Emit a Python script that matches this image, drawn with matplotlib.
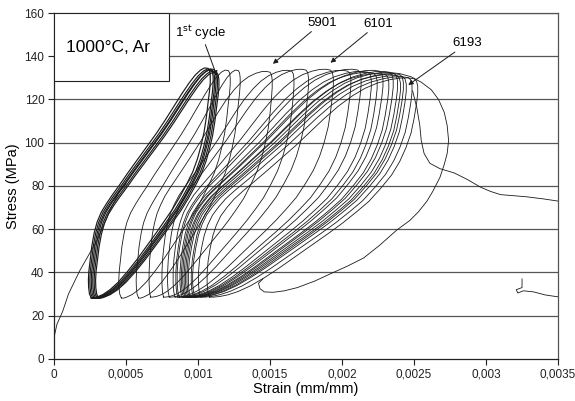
import numpy as np
import matplotlib
matplotlib.use("Agg")
import matplotlib.pyplot as plt
from matplotlib.patches import Rectangle

plt.rcParams['font.family'] = ['Liberation Sans', 'DejaVu Sans']

# loop outlines, strain given as fraction of the loop span
# (0 = lower-left turning point, 1 = peak), stress in MPa
narrow_up_u = [0.01, -0.005, -0.012, -0.014, -0.01, 0.0, 0.015, 0.035, 0.06, 0.095, 0.14, 0.19,
               0.25, 0.32, 0.40, 0.48, 0.56, 0.64, 0.71, 0.78, 0.84, 0.89, 0.935, 0.97, 1.0]
narrow_up_s = [28.2, 30, 33, 36.5, 40.5, 45, 52, 58, 63, 67.5, 71.5, 75.5,
               80, 85.5, 91.5, 97.5, 103.5, 110, 116, 122, 126.8, 130.3, 132.6, 133.6, 133.4]
narrow_dn_u = [1.0, 1.012, 1.018, 1.018, 1.012, 1.0, 0.985, 0.965, 0.94, 0.91, 0.87, 0.82, 0.76,
               0.70, 0.63, 0.56, 0.48, 0.40, 0.32, 0.24, 0.17, 0.11, 0.06, 0.03, 0.01]
narrow_dn_s = [133.4, 132.3, 130, 127, 123, 118, 111, 104, 98, 92, 86, 80.5, 74.5,
               69, 63.5, 58, 52, 46, 40.5, 35.5, 32, 29.8, 28.6, 28.1, 28.2]

fat_up_u = [0.0, -0.008, -0.012, -0.012, -0.007, 0.003, 0.016, 0.033, 0.055, 0.085, 0.12, 0.165,
            0.22, 0.28, 0.35, 0.42, 0.49, 0.56, 0.63, 0.70, 0.76, 0.82, 0.88, 0.93, 0.97, 1.0]
fat_up_s = [28.6, 31, 35, 40, 46, 52, 58, 63, 67.5, 71.5, 75.5, 79.5,
            84, 89, 95, 101, 107.5, 114, 120, 125, 128.5, 131, 132.6, 133.4, 133.5, 133.1]
fat_dn_u = [1.0, 1.012, 1.018, 1.018, 1.012, 1.0, 0.985, 0.96, 0.93, 0.89, 0.84, 0.78, 0.72,
            0.65, 0.58, 0.50, 0.42, 0.34, 0.27, 0.20, 0.14, 0.09, 0.05, 0.02, 0.0]
fat_dn_s = [133.1, 132, 129.5, 126, 121, 114, 107, 100, 93.5, 87, 81, 74.5, 69.5,
            64, 59, 53.5, 48, 42.5, 38, 34, 31.3, 29.7, 28.9, 28.6, 28.6]

# strain at lower-left corner, strain at peak and peak stress of each loop
loop_low = [0.00025, 0.00026, 0.00027, 0.00028, 0.00029, 0.00030,
            0.00046, 0.00058, 0.00067, 0.00076, 0.00080, 0.00084,
            0.00086, 0.00087, 0.00089, 0.00090, 0.00091, 0.00092, 0.00093,
            0.00094, 0.00095, 0.00097, 0.00098, 0.00102, 0.00108]
loop_high = [0.00107, 0.00109, 0.00110, 0.00111, 0.00112, 0.00113,
             0.00121, 0.00128, 0.00150, 0.00165, 0.00175, 0.00192,
             0.00204, 0.00211, 0.00218, 0.00222, 0.00226, 0.00230, 0.00233,
             0.00236, 0.00238, 0.00240, 0.00242, 0.00246, 0.00250]
loop_peak = [134.5, 134, 133.5, 134, 133, 132.5,
             133.5, 133.5, 133, 133.5, 134, 134,
             133.5, 134, 133, 132.5, 133.5, 132, 133,
             132.5, 131.5, 132, 131, 130.5, 130]
loop_kind = ['narrow'] * 8 + ['fat'] * 17

# first loading from zero
first_strain = [0.0, 0.00002, 0.00006, 0.00010, 0.00018, 0.00030, 0.00039, 0.00045, 0.00050]
first_stress = [10, 16, 22, 30, 41, 55, 69, 77, 81]

# last (failure) loop
last_strain = [0.00232, 0.00240, 0.00248, 0.00255, 0.00262, 0.00267, 0.00271, 0.00273, 0.00274,
               0.00273, 0.00271, 0.00268, 0.00263, 0.00259, 0.00253, 0.00247, 0.00238, 0.00226,
               0.00215, 0.00204, 0.00194, 0.00181, 0.00169, 0.00160, 0.00152, 0.00146,
               0.00143, 0.00142, 0.00145]
last_stress = [132.5, 132, 130.5, 128, 124.5, 120, 114, 108, 101,
               95, 90, 84, 77.5, 73, 68, 64, 59.6, 52.5,
               46.7, 43, 40, 36, 33, 31.5, 30.8, 31,
               32.5, 35, 37]

# run-away after failure
tail_strain = [0.00249, 0.00252, 0.00254, 0.00255, 0.00257, 0.00261, 0.00268, 0.00278, 0.00287,
               0.00296, 0.00303, 0.00310, 0.00319, 0.00328, 0.00340, 0.00350]
tail_stress = [124, 116, 108, 101, 95, 90.5, 88, 86, 83,
               79.5, 77.5, 76, 75.5, 75, 74, 73]

curl_strain = [0.00325, 0.00325, 0.00321, 0.00322, 0.00326, 0.00333, 0.00341, 0.00350]
curl_stress = [37, 33, 32, 30.5, 31.5, 31, 29.6, 28.7]

xticks = [0, 0.0005, 0.001, 0.0015, 0.002, 0.0025, 0.003, 0.0035]
xtick_labels = ['0', '0,0005', '0,001', '0,0015', '0,002', '0,0025', '0,003', '0,0035']
yticks = [0, 20, 40, 60, 80, 100, 120, 140, 160]

shapes = {
    'narrow': (narrow_up_u, narrow_up_s, narrow_dn_u, narrow_dn_s),
    'fat': (fat_up_u, fat_up_s, fat_dn_u, fat_dn_s),
}

fig = plt.figure(figsize=(5.75, 4.01), dpi=100)
ax = fig.add_axes([0.094, 0.105, 0.8765, 0.8625])

line_kw = dict(color='#1a1a1a', lw=0.6, zorder=3)

for i, (lo, hi, pk, kind) in enumerate(zip(loop_low, loop_high, loop_peak, loop_kind)):
    up_u, up_s, dn_u, dn_s = shapes[kind]
    u = np.array(up_u + dn_u)
    s = np.array(up_s + dn_s)
    # stretch the outline to this loop's peak stress
    s = 28 + (s - 28) * (pk - 28) / (133.5 - 28)
    lw = 0.85 if i < 6 else 0.6
    ax.plot(lo + u * (hi - lo), s, color='#1a1a1a', lw=lw, zorder=3)

ax.plot(first_strain, first_stress, **line_kw)
ax.plot(last_strain, last_stress, **line_kw)
ax.plot(tail_strain, tail_stress, **line_kw)
ax.plot(curl_strain, curl_stress, **line_kw)

ax.set_xlim(0, 0.0035)
ax.set_ylim(0, 160)
ax.set_xticks(xticks)
ax.set_xticklabels(xtick_labels)
ax.set_yticks(yticks)
ax.tick_params(direction='out', length=4, width=0.8, labelsize=8.5, colors='#222', pad=3)

for y in yticks[1:]:
    ax.axhline(y, color='#555555', lw=0.9, zorder=1)
for side in ['top', 'right']:
    ax.spines[side].set_color('#555555')
    ax.spines[side].set_linewidth(0.9)
for side in ['left', 'bottom']:
    ax.spines[side].set_color('#222')
    ax.spines[side].set_linewidth(0.9)

ax.set_xlabel('Strain (mm/mm)', fontsize=10.5, labelpad=1)
ax.set_ylabel('Stress (MPa)', fontsize=10.5, labelpad=3)

# condition box
ax.add_patch(Rectangle((0, 0.803), 0.228, 0.197, transform=ax.transAxes,
                       facecolor='white', edgecolor='#222', lw=0.8, zorder=5))
ax.text(0.107, 0.9, '1000\u00b0C, Ar', transform=ax.transAxes, fontsize=12.5,
        ha='center', va='center', zorder=6)

arrow = dict(arrowstyle='-|>', color='#1a1a1a', lw=0.7, mutation_scale=7, shrinkA=0, shrinkB=0)
ax.annotate('1$^{\\rm st}$ cycle', xy=(0.00113, 131), xytext=(0.00102, 151),
            fontsize=9.5, ha='center', va='center', arrowprops=arrow, zorder=6)
ax.annotate('5901', xy=(0.00152, 136.5), xytext=(0.00186, 155.5),
            fontsize=9.5, ha='center', va='center', arrowprops=arrow, zorder=6)
ax.annotate('6101', xy=(0.00192, 137), xytext=(0.00225, 155),
            fontsize=9.5, ha='center', va='center', arrowprops=arrow, zorder=6)
ax.annotate('6193', xy=(0.00246, 126.7), xytext=(0.00287, 146),
            fontsize=9.5, ha='center', va='center', arrowprops=arrow, zorder=6)

fig.savefig('out.png', dpi=100)
